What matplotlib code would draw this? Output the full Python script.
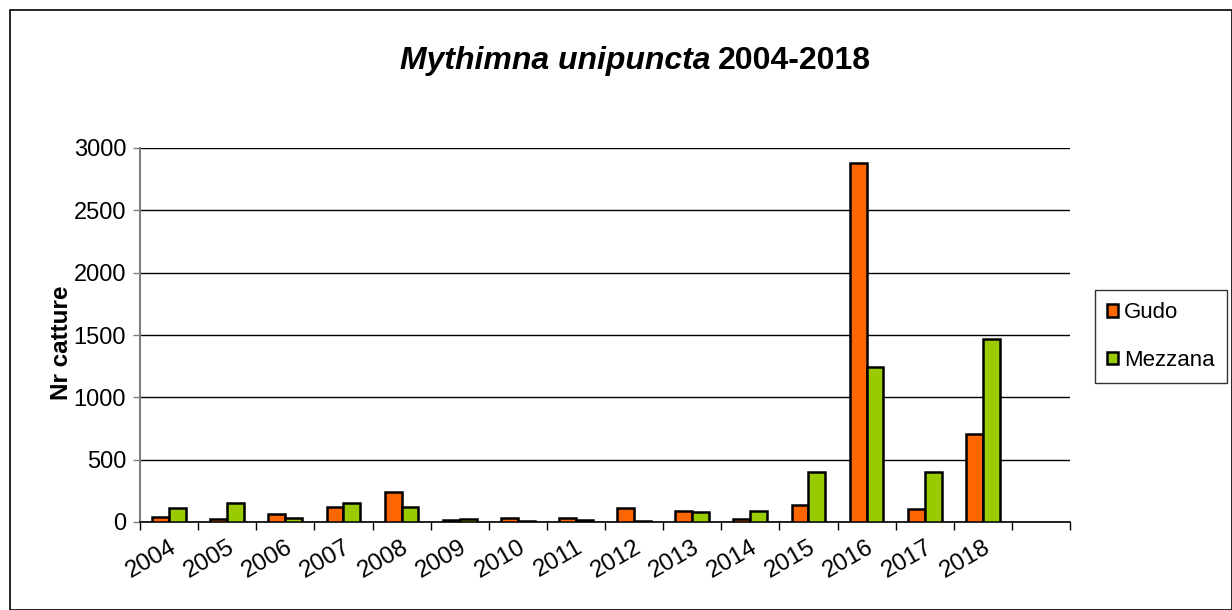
import matplotlib
matplotlib.use("Agg")
import matplotlib.pyplot as plt
import numpy as np
from matplotlib.patches import Rectangle

plt.rcParams['font.family'] = ['Liberation Sans', 'DejaVu Sans']

years = ['2004', '2005', '2006', '2007', '2008', '2009', '2010', '2011',
         '2012', '2013', '2014', '2015', '2016', '2017', '2018']
gudo = [40, 25, 65, 120, 240, 15, 30, 35, 110, 85, 25, 135, 2880, 105, 705]
mezzana = [110, 150, 35, 155, 120, 25, 5, 20, 5, 80, 88, 400, 1245, 400, 1470]

W, H = 1232, 610
fig = plt.figure(figsize=(W / 100, H / 100), dpi=100)

# outer chart frame
fig.patches.append(Rectangle((10 / W, 0), 1 - 10 / W, 1 - 10 / H, transform=fig.transFigure,
                             fill=False, edgecolor='black', linewidth=1.2))

ax = fig.add_axes([140 / W, 1 - 522 / H, (1070 - 140) / W, (522 - 148) / H])

x = np.arange(len(years))
bw = 0.29
ax.bar(x - bw / 2, gudo, bw, color='#FF6600', edgecolor='black', linewidth=1.8,
       label='Gudo', zorder=3)
ax.bar(x + bw / 2, mezzana, bw, color='#99CC00', edgecolor='black', linewidth=1.8,
       label='Mezzana', zorder=3)

ax.set_xlim(-0.5, 15.5)
ax.set_ylim(0, 3000)
ax.set_yticks(np.arange(0, 3001, 500))
ax.yaxis.grid(True, color='black', linewidth=1.0, zorder=0)
ax.set_axisbelow(True)

ax.set_xticks(x)
ax.set_xticklabels(years, rotation=30, ha='right', rotation_mode='anchor', fontsize=17.5)
ax.tick_params(axis='x', which='major', length=0, pad=10)
ax.set_xticks(np.arange(-0.5, 16, 1.0), minor=True)
ax.tick_params(axis='x', which='minor', length=6, width=1, color='black', direction='out')
ax.tick_params(axis='y', labelsize=17, length=5, width=1, color='#808080', pad=5)

for s in ['top', 'right']:
    ax.spines[s].set_visible(False)
ax.spines['left'].set_color('#808080')
ax.spines['left'].set_linewidth(1.5)
ax.spines['bottom'].set_color('black')
ax.spines['bottom'].set_linewidth(1.2)

fig.text(62 / W, 1 - 343 / H, 'Nr catture', rotation=90, fontsize=17.5, fontweight='bold',
         ha='center', va='center')

fig.text(711 / W, 1 - 69 / H, 'Mythimna unipuncta', fontsize=23, fontweight='bold',
         fontstyle='italic', ha='right', va='baseline')
fig.text(718 / W, 1 - 69 / H, '2004-2018', fontsize=23, fontweight='bold',
         ha='left', va='baseline')

leg = fig.legend(loc='upper left', bbox_to_anchor=(1095 / W, 1 - 290 / H), fontsize=16,
                 frameon=True, fancybox=False, edgecolor='black', handlelength=0.5,
                 handleheight=0.5, handletextpad=0.25, labelspacing=1.2, borderpad=0.55,
                 borderaxespad=0)
leg.get_frame().set_linewidth(1.0)

fig.savefig('out.png', dpi=100)
